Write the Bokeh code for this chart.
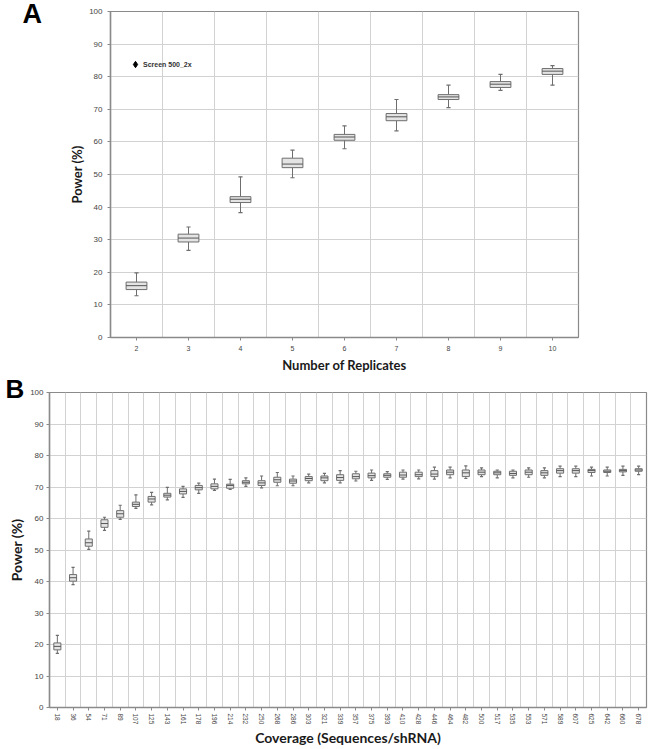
import math
from bokeh.plotting import figure
from bokeh.layouts import column, row
from bokeh.models import Range1d, FixedTicker, Label, ColumnDataSource
from bokeh.embed import file_html
from bokeh.resources import INLINE

# ---------------- Data: panel A ----------------
replicates = [2, 3, 4, 5, 6, 7, 8, 9, 10]
a_low = [12.8, 26.7, 38.3, 49.0, 57.9, 63.4, 70.5, 75.8, 77.4]
a_q1 = [14.7, 29.3, 41.4, 52.1, 60.5, 66.5, 73.0, 76.7, 80.7]
a_med = [15.9, 30.5, 42.4, 53.2, 61.5, 67.7, 73.8, 77.7, 81.7]
a_q3 = [17.0, 31.7, 43.2, 55.0, 62.3, 68.7, 74.5, 78.5, 82.5]
a_high = [19.8, 33.9, 49.3, 57.5, 64.9, 73.0, 77.4, 80.7, 83.4]
legend_a = "Screen 500_2x"

# ---------------- Data: panel B ----------------
coverage = [18, 36, 54, 71, 89, 107, 125, 143, 161, 178, 196, 214, 232, 250, 268,
            286, 303, 321, 339, 357, 375, 393, 410, 428, 446, 464, 482, 500, 517,
            535, 553, 571, 589, 607, 625, 642, 660, 678]
b_low = [17.2, 39.0, 50.2, 56.2, 59.7, 63.2, 64.3, 65.9, 66.7, 68.0, 68.9, 69.2, 70.2, 69.7, 70.4,
         70.4, 71.3, 71.3, 71.3, 71.9, 72.1, 72.4, 72.5, 72.6, 72.5, 72.9, 72.7, 73.3, 72.9,
         72.9, 73.1, 72.9, 73.3, 73.3, 73.5, 73.5, 73.7, 73.9]
b_q1 = [18.3, 40.1, 51.2, 57.2, 60.4, 63.8, 65.2, 66.8, 67.8, 69.1, 69.4, 69.6, 71.0, 70.5, 71.5,
        71.2, 72.0, 72.0, 72.1, 72.6, 72.9, 73.1, 73.1, 73.3, 73.3, 73.9, 73.3, 73.9, 73.9,
        73.7, 73.9, 73.7, 74.4, 74.4, 74.6, 74.6, 74.8, 75.0]
b_med = [19.4, 41.2, 52.3, 58.4, 61.5, 64.5, 66.2, 67.4, 68.6, 69.8, 70.2, 70.5, 71.5, 71.3, 72.3,
         71.9, 72.7, 72.9, 73.0, 73.3, 73.6, 73.7, 73.8, 73.9, 74.1, 74.7, 74.5, 74.7, 74.5,
         74.3, 74.7, 74.5, 75.2, 75.2, 75.2, 75.0, 75.2, 75.4]
b_q3 = [20.5, 42.2, 53.5, 59.6, 62.5, 65.2, 67.0, 68.0, 69.4, 70.5, 71.0, 70.9, 72.0, 72.0, 73.1,
        72.5, 73.3, 73.5, 73.9, 74.2, 74.4, 74.2, 74.7, 74.7, 75.2, 75.4, 75.4, 75.4, 75.0,
        75.0, 75.4, 75.2, 75.8, 75.8, 75.6, 75.4, 75.6, 75.8]
b_high = [22.9, 44.5, 56.0, 60.4, 64.2, 67.5, 68.3, 69.9, 70.2, 71.2, 72.5, 72.4, 72.9, 73.5, 74.6,
          73.5, 74.1, 74.3, 75.2, 75.0, 75.4, 74.9, 75.4, 75.4, 76.3, 76.3, 76.7, 76.1, 75.4,
          75.4, 76.1, 76.1, 76.6, 76.6, 76.3, 76.3, 76.6, 76.6]

y_ticks = [0, 10, 20, 30, 40, 50, 60, 70, 80, 90, 100]
y_title = "Power (%)"

GRID = "#d2d2d2"
AXIS = "#8a8a8a"
BOX_LINE = "#6e6e6e"
BOX_FILL = "#e4e4e4"
TICKFONT = "Liberation Sans"
LABELFONT = "Lato"


def style(p, label_size, tick_size_x, tick_size_y):
    p.xaxis.axis_line_color = AXIS
    p.yaxis.axis_line_color = AXIS
    p.xaxis.axis_line_width = 1.5
    p.yaxis.axis_line_width = 1.5
    for ax in (p.xaxis, p.yaxis):
        ax.major_tick_line_color = AXIS
        ax.major_tick_in = 0
        ax.major_tick_out = 3
        ax.minor_tick_line_color = None
        ax.major_label_text_font = TICKFONT
        ax.major_label_text_color = "#444444"
        ax.axis_label_text_font = LABELFONT
        ax.axis_label_text_font_style = "bold"
        ax.axis_label_text_font_size = label_size
        ax.axis_label_text_color = "#1a1a1a"
    p.xaxis.major_label_text_font_size = tick_size_x
    p.yaxis.major_label_text_font_size = tick_size_y
    p.xgrid.grid_line_color = GRID
    p.ygrid.grid_line_color = GRID
    p.outline_line_color = AXIS
    p.outline_line_width = 1.2
    p.background_fill_color = "white"
    p.border_fill_color = "white"


def boxes(p, xs, lo, q1, med, q3, hi, box_w, cap_w):
    src = ColumnDataSource(dict(
        x=xs, lo=lo, q1=q1, med=med, q3=q3, hi=hi,
        bl=[x - box_w / 2 for x in xs], br=[x + box_w / 2 for x in xs],
        cl=[x - cap_w / 2 for x in xs], cr=[x + cap_w / 2 for x in xs],
    ))
    p.segment(x0="x", y0="q3", x1="x", y1="hi", source=src, line_color=BOX_LINE, line_width=1)
    p.segment(x0="x", y0="lo", x1="x", y1="q1", source=src, line_color=BOX_LINE, line_width=1)
    p.segment(x0="cl", y0="hi", x1="cr", y1="hi", source=src, line_color=BOX_LINE, line_width=1.2)
    p.segment(x0="cl", y0="lo", x1="cr", y1="lo", source=src, line_color=BOX_LINE, line_width=1.2)
    p.vbar(x="x", width=box_w, bottom="q1", top="q3", source=src,
           fill_color=BOX_FILL, line_color=BOX_LINE, line_width=1)
    p.segment(x0="bl", y0="med", x1="br", y1="med", source=src, line_color="#555555", line_width=1)
    return src


def strip(w, h):
    s = figure(width=w, height=h, output_backend="svg", toolbar_location=None,
               x_range=Range1d(0, 1), y_range=Range1d(0, 1),
               x_axis_type=None, y_axis_type=None, min_border=0, frame_align=False)
    s.grid.visible = False
    s.outline_line_color = None
    s.background_fill_color = "white"
    s.border_fill_color = "white"
    return s


def letter(s, text, x, y, size):
    s.add_layout(Label(x=x, y=y, x_units="screen", y_units="screen", text=text,
                       text_font=TICKFONT, text_font_style="bold", text_font_size=size,
                       text_baseline="top", text_color="black"))


# ---------------- Panel A ----------------
la = strip(60, 375)
letter(la, "A", 22, 377, "27px")

pa = figure(width=592, height=375, output_backend="svg", toolbar_location=None,
            x_range=Range1d(replicates[0] - 0.5, replicates[-1] + 0.5),
            y_range=Range1d(0, 100), frame_align=False,
            min_border_left=50, min_border_right=74, min_border_top=11, min_border_bottom=37,
            x_axis_label="Number of Replicates", y_axis_label=y_title)
style(pa, "13px", "7px", "8px")
pa.xaxis.ticker = FixedTicker(ticks=replicates)
pa.yaxis.ticker = FixedTicker(ticks=y_ticks)
pa.xgrid.ticker = FixedTicker(ticks=[r + 0.5 for r in replicates[:-1]])
pa.xaxis.axis_label_standoff = 3
pa.yaxis.axis_label_standoff = 1
pa.xaxis.major_label_standoff = 5
src_a = boxes(pa, replicates, a_low, a_q1, a_med, a_q3, a_high, 0.4, 0.08)

# series marker for the legend (drawn at size 0 on the plot itself)
pa.scatter(x="x", y="med", source=src_a, marker="diamond", size=0,
           fill_color="black", line_color="black", legend_label=legend_a)
lg = pa.legend[0]
lg.location = (17, 265)
lg.padding = 0
lg.margin = 0
lg.spacing = 0
lg.glyph_width = 16
lg.glyph_height = 16
lg.label_height = 16
lg.label_standoff = 0
lg.label_text_font = TICKFONT
lg.label_text_font_size = "7px"
lg.label_text_font_style = "bold"
lg.label_text_color = "#333333"
lg.background_fill_alpha = 0
lg.border_line_alpha = 0

# ---------------- Panel B ----------------
B_H = 374
B_TOP, B_BOTTOM = 17, 42
lb = strip(27, B_H)
letter(lb, "B", 5, B_H + 2, "26px")
# y-axis title of panel B, centred on the plot frame
lb.add_layout(Label(x=16, y=B_BOTTOM + (B_H - B_TOP - B_BOTTOM) / 2,
                    x_units="screen", y_units="screen", text=y_title,
                    angle=math.pi / 2, text_align="center", text_baseline="middle",
                    text_font=LABELFONT, text_font_style="bold", text_font_size="14px",
                    text_color="#1a1a1a"))

idx = list(range(len(coverage)))
pb = figure(width=625, height=B_H, output_backend="svg", toolbar_location=None,
            x_range=Range1d(-0.5, len(coverage) - 0.5),
            y_range=Range1d(0, 100), frame_align=False,
            min_border_left=20, min_border_right=6, min_border_top=B_TOP,
            min_border_bottom=B_BOTTOM,
            x_axis_label="Coverage (Sequences/shRNA)")
style(pb, "14px", "6.5px", "8px")
pb.xaxis.ticker = FixedTicker(ticks=idx)
pb.xaxis.major_label_overrides = {i: str(c) for i, c in zip(idx, coverage)}
pb.xaxis.major_label_orientation = -math.pi / 2
pb.yaxis.ticker = FixedTicker(ticks=y_ticks)
pb.yaxis.major_label_standoff = 3
pb.xgrid.ticker = FixedTicker(ticks=[i + 0.5 for i in idx[:-1]])
pb.xaxis.axis_label_standoff = 2
pb.xaxis.major_label_standoff = 3
boxes(pb, idx, b_low, b_q1, b_med, b_q3, b_high, 0.45, 0.2)

layout = column(row(la, pa), row(lb, pb))
open("out.html", "w").write(file_html(layout, INLINE))
